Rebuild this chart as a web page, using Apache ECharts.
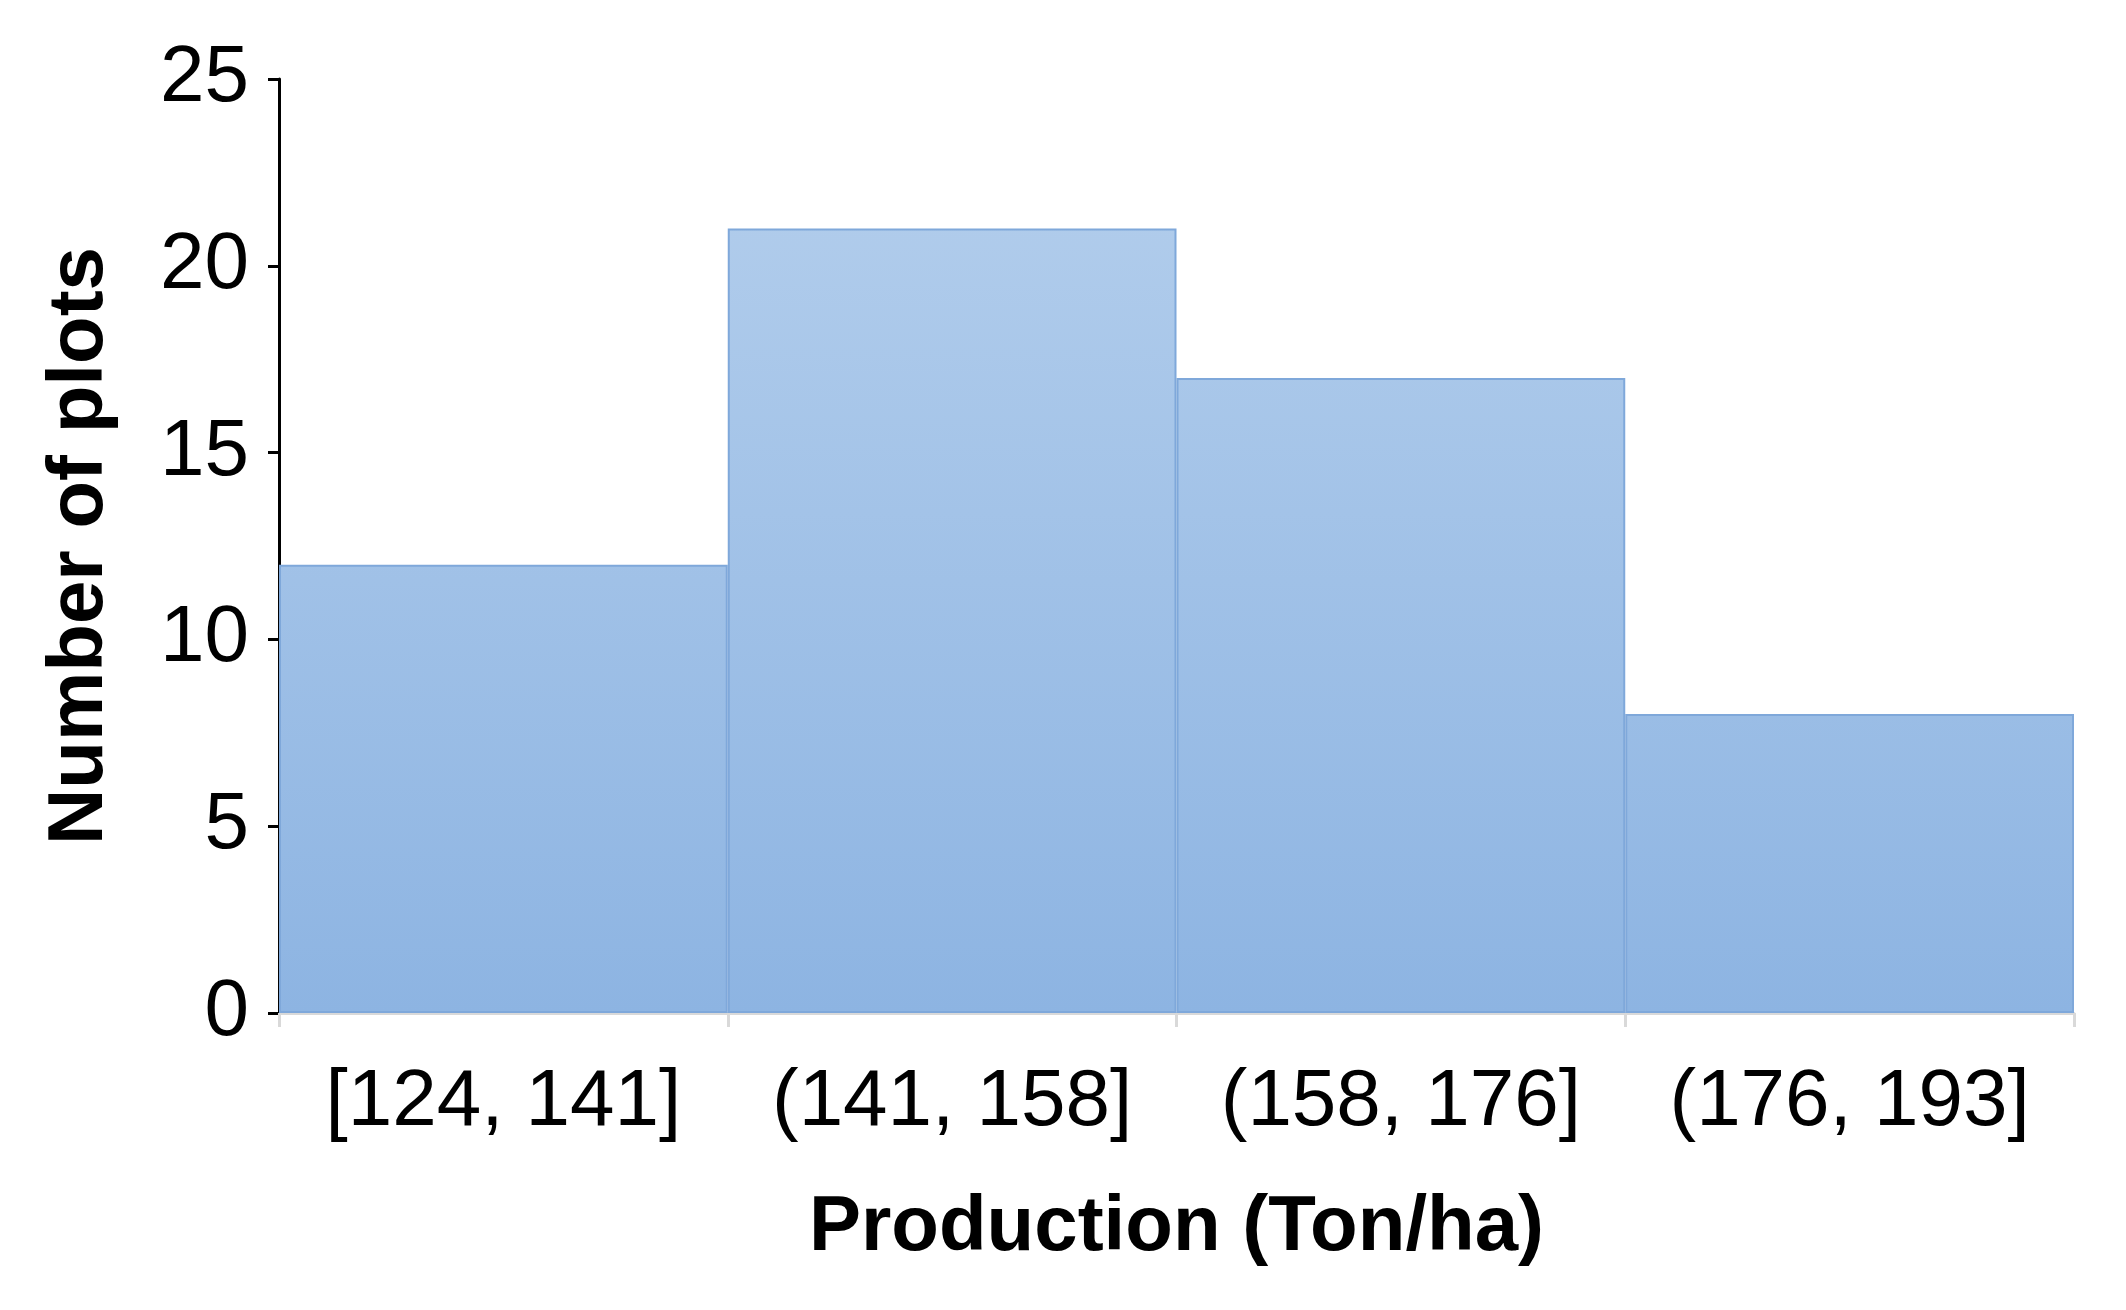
<!DOCTYPE html>
<html>
<head>
<meta charset="utf-8">
<title>Production histogram</title>
<script src="https://cdn.jsdelivr.net/npm/echarts@6/dist/echarts.min.js"></script>
<style>
  html, body { margin: 0; padding: 0; background: #fff; }
  #chart { width: 2126px; height: 1310px; }
</style>
</head>
<body>
<div id="chart"></div>
<script>
// bins of production (Ton/ha)
const categories = ['[124, 141]', '(141, 158]', '(158, 176]', '(176, 193]']
// number of plots in each bin
const counts = [12, 21, 17, 8]
const yTicks = { min: 0, max: 25, interval: 5 }

const chart = echarts.init(document.getElementById('chart'))
const font = '"Liberation Sans", Arial, sans-serif'

const option = {
  animation: false,
  grid: {
    left: 279,
    right: 52,
    top: 79,
    bottom: 297
  },
  xAxis: {
    type: 'category',
    data: categories,
    name: 'Production (Ton/ha)',
    nameLocation: 'middle',
    nameGap: 176,
    nameTextStyle: {
      fontFamily: font,
      fontSize: 78,
      fontWeight: 'bold',
      color: '#000'
    },
    axisLine: {
      lineStyle: { color: '#d9d9d9', width: 3 }
    },
    axisTick: {
      show: true,
      interval: 0,
      length: 14,
      lineStyle: { color: '#d9d9d9', width: 3 }
    },
    axisLabel: {
      interval: 0,
      fontFamily: font,
      fontSize: 80,
      color: '#000',
      margin: 50
    }
  },
  yAxis: {
    type: 'value',
    min: yTicks.min,
    max: yTicks.max,
    interval: yTicks.interval,
    name: 'Number of plots',
    nameLocation: 'middle',
    nameGap: 160,
    nameTextStyle: {
      fontFamily: font,
      fontSize: 78,
      fontWeight: 'bold',
      color: '#000'
    },
    axisLine: {
      show: true,
      lineStyle: { color: '#000', width: 3 }
    },
    axisTick: {
      show: true,
      length: 11,
      lineStyle: { color: '#000', width: 3 }
    },
    axisLabel: {
      fontFamily: font,
      fontSize: 80,
      color: '#000',
      margin: 30
    },
    splitLine: { show: false }
  },
  series: [{
    type: 'bar',
    data: counts,
    barCategoryGap: '0%',
    itemStyle: {
      // one gradient across the plot area, so lower bars start darker
      color: new echarts.graphic.LinearGradient(0, 79, 0, 1013, [
        { offset: 0, color: '#b6d0ed' },
        { offset: 1, color: '#8db4e2' }
      ], true),
      borderColor: '#7fa8da',
      borderWidth: 2
    }
  }]
}

chart.setOption(option)
</script>
</body>
</html>
